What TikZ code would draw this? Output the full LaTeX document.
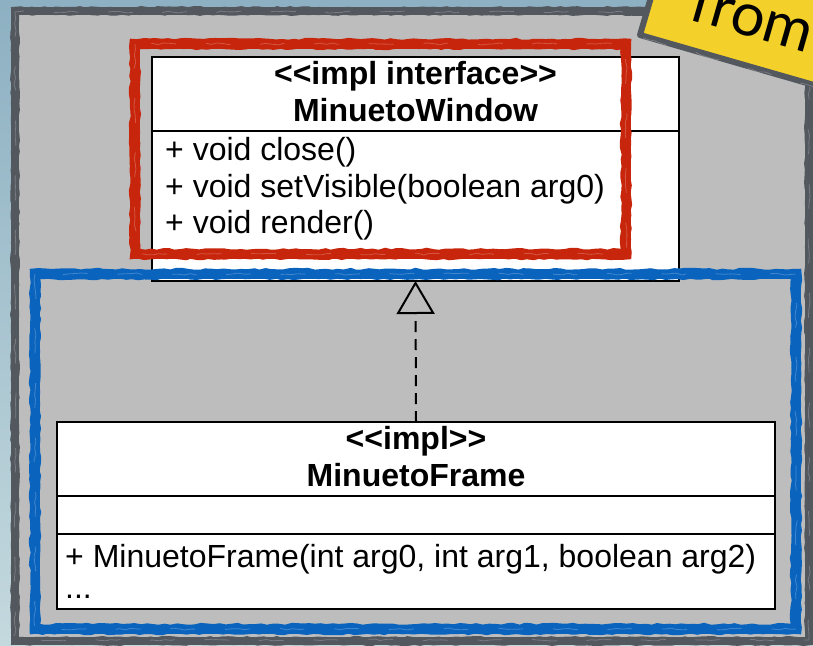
\documentclass[tikz,border=0pt]{standalone}
\usepackage{fontspec}
\setmainfont{Liberation Sans}[Ligatures=TeXOff]
\newfontfamily\notefont{Lato}
\usetikzlibrary{positioning,arrows.meta,decorations.pathmorphing}

\definecolor{bgtop}{HTML}{8DB0C2}
\definecolor{bgbot}{HTML}{C4D9DE}
\definecolor{panelgrey}{HTML}{BDBDBD}
\definecolor{inkgrey}{HTML}{53575E}
\definecolor{penred}{HTML}{C8260C}
\definecolor{penblue}{HTML}{0A64BE}
\definecolor{noteyellow}{HTML}{F4D12A}

\tikzset{
    classbox/.style={draw=black, line width=2pt, fill=white, inner sep=0pt, outer sep=0pt},
    uml/.style={font=\fontsize{32pt}{37pt}\selectfont, inner sep=0pt},
    umlhead/.style={font=\fontsize{32pt}{37pt}\selectfont\bfseries, inner sep=0pt},
    rough/.style={decorate, decoration={random steps, segment length=6pt, amplitude=1pt}},
    streak/.style={white, opacity=0.22, line width=0.8pt, dash pattern=on 25pt off 30pt, rough},
    realizes/.style={line width=2pt, dash pattern=on 11pt off 7pt,
        -{Triangle[open, length=33pt, width=38pt, line width=2pt]}},
}

\begin{document}
\begin{tikzpicture}[x=1pt, y=-1pt]
        \pgfmathsetseed{7}
        \useasboundingbox (0,0) rectangle (813,645);
        \shade[top color=bgtop, bottom color=bgbot] (0,0) rectangle (813,645);

        % panel
        \fill[panelgrey] (15,11) rectangle (809,641);
        \draw[inkgrey, line width=8pt] (15,11) rectangle (809,641);
        \foreach \o in {-3,3}
            \draw[inkgrey, line width=2pt, rough] ({15-\o},{11-\o}) rectangle ({809+\o},{641+\o});
        \draw[streak] (15,12) rectangle (809,640);

        % classes
        \node[classbox, minimum width=527pt, minimum height=224pt] (window) at (415.5,169) {};
        \draw[line width=2pt] ([yshift=-74pt]window.north west) -- ([yshift=-74pt]window.north east);
        \node[umlhead, anchor=base] (windowstereo) at (415.5,84)  {<<impl interface>>};
        \node[umlhead, anchor=base] (windowname)   at (415.5,121) {MinuetoWindow};
        \node[uml, anchor=base west] (closeop)   at (165,160) {+ void close()};
        \node[uml, anchor=base west] (visibleop) at (165,197) {+ void setVisible(boolean arg0)};
        \node[uml, anchor=base west] (renderop)  at (165,233) {+ void render()};

        \node[classbox, minimum width=718pt, minimum height=187pt] (frame) at (416,515.5) {};
        \draw[line width=2pt] ([yshift=-74pt]frame.north west)  -- ([yshift=-74pt]frame.north east);
        \draw[line width=2pt] ([yshift=-112pt]frame.north west) -- ([yshift=-112pt]frame.north east);
        \node[umlhead, anchor=base] (framestereo) at (416,449) {<<impl>>};
        \node[umlhead, anchor=base] (framename)   at (416,486) {MinuetoFrame};
        \node[uml, anchor=base west] (ctorop) at (65,567) {+ MinuetoFrame(int arg0, int arg1, boolean arg2)};
        \node[uml, anchor=base west] (moreop) at (65,598) {...};

        \draw[realizes] (frame.north) -- (window.south);

        % red frame
        \draw[penred, line width=9pt] (135,44) rectangle (626,254);
        \foreach \o in {-4,4}
            \draw[penred, line width=2.5pt, rough] ({135-\o},{44-\o}) rectangle ({626+\o},{254+\o});
        \draw[streak] (135,44) rectangle (626,254);

        % blue frame
        \draw[penblue, line width=9pt] (35,274) rectangle (796,629);
        \foreach \o in {-4,4}
            \draw[penblue, line width=2.5pt, rough] ({35-\o},{274-\o}) rectangle ({796+\o},{629+\o});
        \draw[streak] (35,274) rectangle (796,629);

        % note
        \draw[inkgrey, fill=noteyellow, line width=6pt, line join=round]
            (640,35) -- (880,104) -- (908,8) -- (668,-61) -- cycle;
        \draw[streak] (643,38) -- (880,106);
        \node[anchor=base west, rotate=-16, inner sep=0pt, font=\notefont\fontsize{60pt}{62pt}\selectfont]
            (notelabel) at (687,19) {from};
    \end{tikzpicture}
\end{document}
